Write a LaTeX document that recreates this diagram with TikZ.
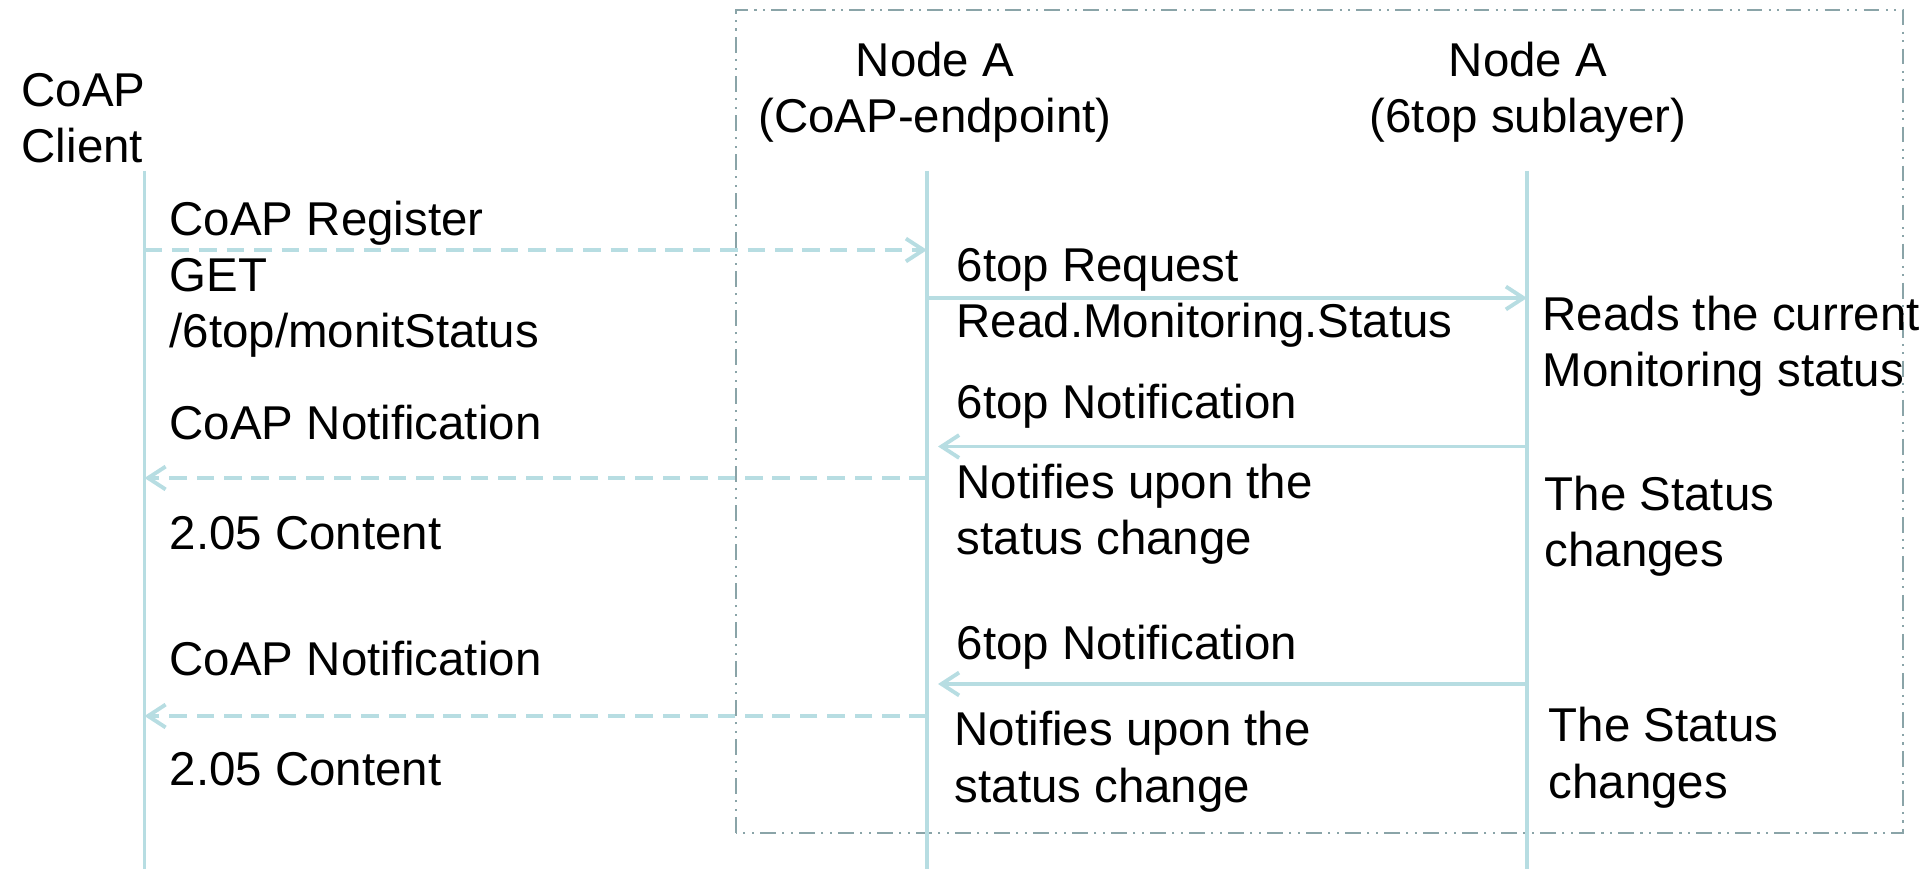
\documentclass[tikz,border=0pt]{standalone}
\usepackage{fontspec}
\setmainfont{Liberation Sans}
\usetikzlibrary{arrows.meta}

\definecolor{lifeblue}{RGB}{183,221,226}
\definecolor{boxgray}{RGB}{138,164,168}

\tikzset{
  txt/.style={inner sep=0pt,align=left,anchor=base west,font=\fontsize{13.5}{16}\selectfont},
  hdr/.style={inner sep=0pt,align=center,anchor=base,font=\fontsize{13.5}{16}\selectfont},
  life/.style={draw=lifeblue,line width=1.1pt},
  msg/.style={draw=lifeblue,line width=1.1pt,-{Straight Barb[length=5pt,width=6.5pt]}},
  coapmsg/.style={msg,dash pattern=on 5pt off 2.8pt}
}

\begin{document}
\begin{tikzpicture}

\useasboundingbox (0,0) rectangle (19.2,8.69);

\draw[boxgray,line width=0.55pt,dash pattern=on 4.5pt off 1.8pt on 0.6pt off 1.8pt on 0.6pt off 1.8pt]
  (7.36,0.36) rectangle (19.03,8.59);

\coordinate (cl) at ( 1.445,6.98);
\coordinate (ep) at ( 9.27,6.98);
\coordinate (sl) at (15.27,6.98);

\draw[life] (cl) -- (cl |- 0,0);
\draw[life] (ep) -- (ep |- 0,0);
\draw[life] (sl) -- (sl |- 0,0);

% base of a multi-line node is its last line
\node[txt] (client) at (0.21,7.06) {CoAP\\Client};
\node[hdr] (nodeep) at (9.35,7.36) {Node A\\(CoAP-endpoint)};
\node[hdr] (nodesl) at (15.28,7.36) {Node A\\(6top sublayer)};

% register
\draw[coapmsg] (cl |- 0,6.19) -- (ep |- 0,6.19);
\draw[msg]     (ep |- 0,5.71) -- (sl |- 0,5.71);

\node[txt] (reg)  at ( 1.69,5.21) {CoAP Register\\GET\\/6top/monitStatus};
\node[txt] (req)  at ( 9.56,5.31) {6top Request\\Read.Monitoring.Status};
\node[txt] (read) at (15.42,4.82) {Reads the current\\Monitoring status};

% first notification
\draw[msg]     (sl |- 0,4.225) -- ([xshift=0.11cm]ep |- 0,4.225);
\draw[coapmsg] (ep |- 0,3.91) -- (cl |- 0,3.91);

\node[txt] (cnotA) at ( 1.69,4.29) {CoAP Notification};
\node[txt] (contA) at ( 1.69,3.19) {2.05 Content};
\node[txt] (tnotA) at ( 9.56,4.50) {6top Notification};
\node[txt] (infoA) at ( 9.56,3.14) {Notifies upon the\\status change};
\node[txt] (chgA)  at (15.44,3.02) {The Status\\changes};

% second notification
\draw[msg]     (sl |- 0,1.85) -- ([xshift=0.11cm]ep |- 0,1.85);
\draw[coapmsg] (ep |- 0,1.53) -- (cl |- 0,1.53);

\node[txt] (cnotB) at ( 1.69,1.93) {CoAP Notification};
\node[txt] (contB) at ( 1.69,0.83) {2.05 Content};
\node[txt] (tnotB) at ( 9.56,2.09) {6top Notification};
\node[txt] (infoB) at ( 9.54,0.67) {Notifies upon the\\status change};
\node[txt] (chgB)  at (15.48,0.71) {The Status\\changes};

\end{tikzpicture}
\end{document}
